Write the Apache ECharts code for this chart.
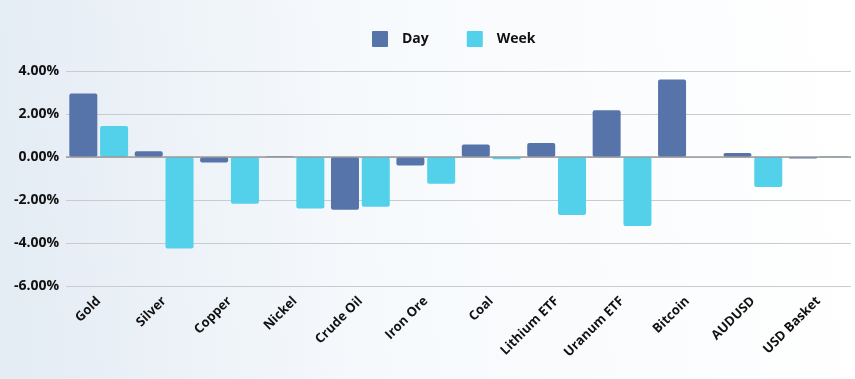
<!DOCTYPE html>
<html>
<head>
<meta charset="utf-8">
<script src="https://cdn.jsdelivr.net/npm/echarts@6/dist/echarts.min.js"></script>
<style>
html,body{margin:0;padding:0;}
#c{width:855px;height:379px;}
</style>
</head>
<body>
<div id="c"></div>
<script>
const categories = ["Gold","Silver","Copper","Nickel","Crude Oil","Iron Ore","Coal","Lithium ETF","Uranum ETF","Bitcoin","AUDUSD","USD Basket"];
const dayValues = [2.95, 0.27, -0.25, 0.04, -2.45, -0.40, 0.58, 0.65, 2.17, 3.60, 0.19, -0.07];
const weekValues = [1.44, -4.26, -2.17, -2.39, -2.31, -1.24, -0.11, -2.70, -3.21, 0.0, -1.40, 0.04];
const seriesNames = ["Day", "Week"];
const yTicks = {min: -6, max: 4, interval: 2};

const chart = echarts.init(document.getElementById('c'));
const font = "'Open Sans', 'Liberation Sans', sans-serif";
chart.setOption({
  backgroundColor: {
    type: 'linear', x: 0, y: 0.2, x2: 1, y2: 0,
    colorStops: [
      {offset: 0, color: '#e4ecf4'},
      {offset: 0.4, color: '#f6f9fc'},
      {offset: 1, color: '#ffffff'}
    ]
  },
  animation: false,
  legend: {
    top: 31, left: 372, padding: 0,
    itemWidth: 16, itemHeight: 16, itemGap: 38,
    textStyle: {fontFamily: font, fontWeight: 'bold', fontSize: 14, color: '#111', padding: [0,0,0,9]},
    icon: 'path://M1,0 L15,0 Q16,0 16,1 L16,15 Q16,16 15,16 L1,16 Q0,16 0,15 L0,1 Q0,0 1,0 Z',
    data: seriesNames
  },
  grid: {left: 66, right: 4, top: 71, bottom: 93},
  xAxis: {
    type: 'category',
    data: categories,
    axisLine: {show: false},
    axisTick: {show: false},
    axisLabel: {
      rotate: 45, interval: 0, margin: 13,
      fontFamily: font, fontWeight: 'bold', fontSize: 13, color: '#111'
    }
  },
  yAxis: {
    type: 'value',
    min: yTicks.min, max: yTicks.max, interval: yTicks.interval,
    axisLine: {show: false},
    axisTick: {show: false},
    axisLabel: {
      margin: 7,
      fontFamily: font, fontWeight: 'bold', fontSize: 14, color: '#111',
      formatter: v => v.toFixed(2) + '%'
    },
    splitLine: {lineStyle: {color: '#c9cbce', width: 1.2}}
  },
  series: [
    {
      name: seriesNames[0], type: 'bar', data: dayValues,
      barWidth: 28, barGap: '10%',
      itemStyle: {color: '#5674a9', borderRadius: 2},
      markLine: {
        silent: true, symbol: 'none', label: {show: false},
        lineStyle: {color: '#9a9a9a', width: 1.5, type: 'solid'},
        data: [{yAxis: 0}]
      },
      z: 3
    },
    {
      name: seriesNames[1], type: 'bar', data: weekValues,
      barWidth: 28,
      itemStyle: {color: '#53d0ea', borderRadius: 2},
      z: 3
    }
  ]
});
</script>
</body>
</html>
